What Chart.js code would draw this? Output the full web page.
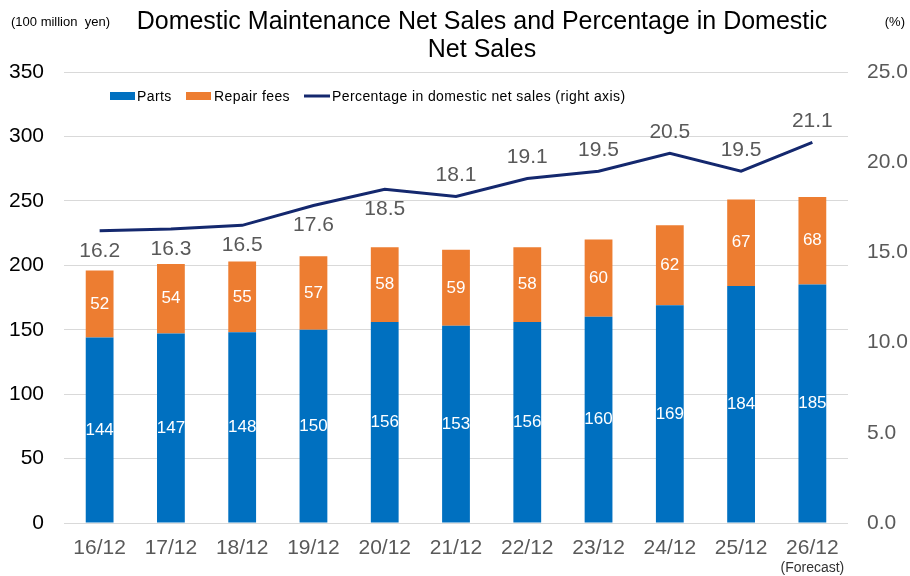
<!DOCTYPE html>
<html>
<head>
<meta charset="UTF-8">
<title>Domestic Maintenance Net Sales</title>
<script src="https://cdn.jsdelivr.net/npm/chart.js@4.4.0/dist/chart.umd.min.js"></script>
<style>
	html, body { margin:0; padding:0; background:#fff; }
	#wrap { width:910px; height:576px; }
</style>
</head>
<body>
<div id="wrap"><canvas id="myChart" width="910" height="576"></canvas></div>
<script>
	// data
	let years = ['16/12','17/12','18/12','19/12','20/12','21/12','22/12','23/12','24/12','25/12','26/12'];
	let parts = [144,147,148,150,156,153,156,160,169,184,185];
	let repairFees = [52,54,55,57,58,59,58,60,62,67,68];
	let percent = [16.2,16.3,16.5,17.6,18.5,18.1,19.1,19.5,20.5,19.5,21.1];
	// where the % label sits relative to the line
	let percentLabelSide = ['below','below','below','below','below','above','above','above','above','above','above'];

	let FONT = "'Liberation Sans', Arial, sans-serif";
	let BLUE = '#0070C0';
	let ORANGE = '#ED7D31';
	let NAVY = '#14286E';

	let extras = {
		id: 'extras',
		afterDraw: function(chart){
			let ctx = chart.ctx;
			ctx.save();

			// title
			ctx.fillStyle = '#000';
			ctx.textAlign = 'center';
			ctx.textBaseline = 'middle';
			ctx.font = '25px ' + FONT;
			ctx.fillText('Domestic Maintenance Net Sales and Percentage in Domestic', 482, 22);
			ctx.fillText('Net Sales', 482, 50);

			// unit labels
			ctx.font = '13px ' + FONT;
			ctx.textAlign = 'left';
			ctx.fillText('(100 million  yen)', 11, 22);
			ctx.textAlign = 'right';
			ctx.fillText('(%)', 905, 22);

			// legend
			ctx.font = '14px ' + FONT;
			ctx.letterSpacing = '0.4px';
			ctx.textAlign = 'left';
			ctx.fillStyle = BLUE;
			ctx.fillRect(110, 92, 25, 8);
			ctx.fillStyle = ORANGE;
			ctx.fillRect(186, 92, 25, 8);
			ctx.strokeStyle = NAVY;
			ctx.lineWidth = 3;
			ctx.beginPath();
			ctx.moveTo(304, 96);
			ctx.lineTo(330, 96);
			ctx.stroke();
			ctx.fillStyle = '#000';
			ctx.fillText('Parts', 137, 97);
			ctx.fillText('Repair fees', 214, 97);
			ctx.fillText('Percentage in domestic net sales (right axis)', 332, 97);
			ctx.letterSpacing = '0px';

			// bar value labels
			ctx.textAlign = 'center';
			ctx.fillStyle = '#fff';
			ctx.font = '17px ' + FONT;
			[0,1].forEach(function(d){
				let meta = chart.getDatasetMeta(d);
				let vals = chart.data.datasets[d].data;
				meta.data.forEach(function(bar, i){
					ctx.fillText(vals[i], bar.x, (bar.y + bar.base) / 2);
				});
			});

			// percentage labels
			ctx.fillStyle = '#595959';
			ctx.font = '21px ' + FONT;
			let lineMeta = chart.getDatasetMeta(2);
			lineMeta.data.forEach(function(pt, i){
				let dy = percentLabelSide[i] == 'below' ? 20 : -21;
				ctx.fillText(percent[i].toFixed(1), pt.x, pt.y + dy);
			});

			// forecast note
			let xs = chart.scales.x;
			ctx.fillStyle = '#333';
			ctx.font = '14px ' + FONT;
			ctx.fillText('(Forecast)', xs.getPixelForValue(years.length - 1), 568);

			ctx.restore();
		}
	};

	new Chart('myChart', {
		data: {
			labels: years,
			datasets: [
				{ type: 'bar', label: 'Parts', data: parts, backgroundColor: BLUE, yAxisID: 'y', order: 2,
				  categoryPercentage: 1, barPercentage: 0.39 },
				{ type: 'bar', label: 'Repair fees', data: repairFees, backgroundColor: ORANGE, yAxisID: 'y', order: 2,
				  categoryPercentage: 1, barPercentage: 0.39 },
				{ type: 'line', label: 'Percentage in domestic net sales (right axis)', data: percent,
				  borderColor: NAVY, borderWidth: 3, pointRadius: 0, tension: 0, yAxisID: 'y1', order: 0 }
			]
		},
		options: {
			responsive: false,
			animation: false,
			layout: { padding: { top: 72, left: 0, right: 0, bottom: 0 } },
			plugins: {
				legend: { display: false },
				title: { display: false },
				tooltip: { enabled: false }
			},
			scales: {
				x: {
					stacked: true,
					grid: { display: false, drawTicks: false },
					border: { display: false },
					ticks: { color: '#595959', font: { family: FONT, size: 21 }, padding: 13 },
					afterFit: function(s){ s.height = 53; }
				},
				y: {
					stacked: true,
					position: 'left',
					min: 0, max: 350,
					ticks: { stepSize: 50, color: '#000', font: { family: FONT, size: 21 }, padding: 20 },
					grid: { color: '#d9d9d9', drawTicks: false },
					border: { display: false },
					afterFit: function(s){ s.width = 64; }
				},
				y1: {
					position: 'right',
					min: 0, max: 25,
					ticks: { stepSize: 5, color: '#595959', font: { family: FONT, size: 21 }, padding: 19,
						callback: function(v){ return v.toFixed(1); } },
					grid: { display: false, drawTicks: false },
					border: { display: false },
					afterFit: function(s){ s.width = 62; }
				}
			}
		},
		plugins: [extras]
	});
</script>
</body>
</html>
